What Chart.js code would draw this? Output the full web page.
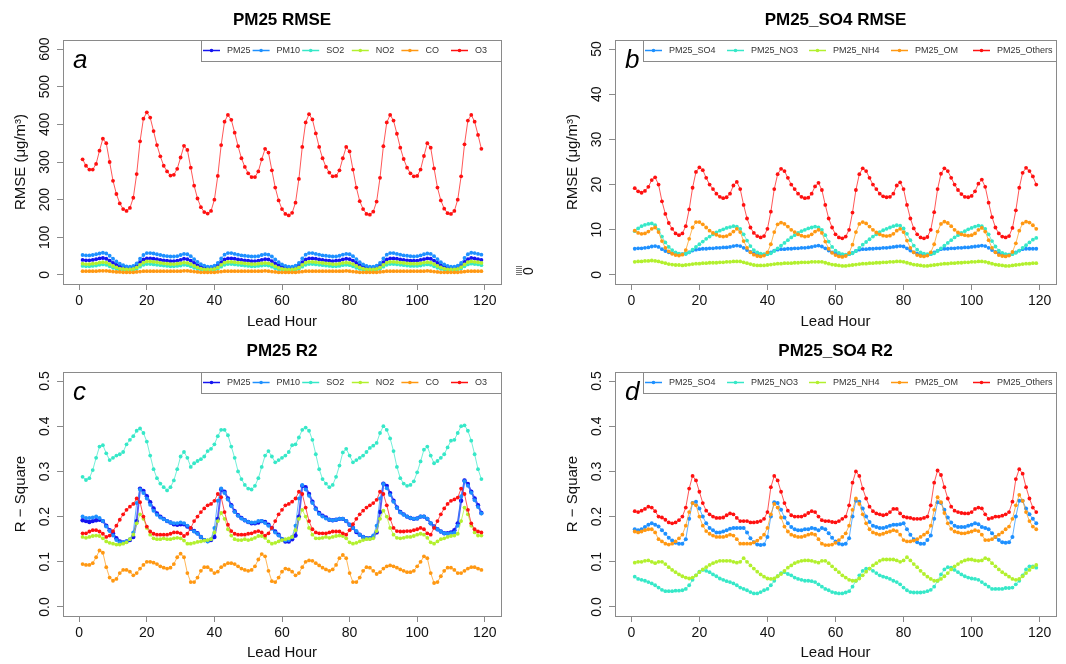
<!DOCTYPE html>
<html><head><meta charset="utf-8">
<script src="https://cdn.jsdelivr.net/npm/chart.js@4.4.1/dist/chart.umd.min.js"></script>
<style>
html,body{margin:0;padding:0;background:#fff;}
#wrap{position:relative;width:1066px;height:664px;overflow:hidden;background:#fff;}
canvas{position:absolute;}
</style></head><body>
<div id="wrap">
<canvas id="pa" width="533" height="332" style="left:0px;top:0px"></canvas>
<canvas id="pb" width="533" height="332" style="left:533px;top:0px"></canvas>
<canvas id="pc" width="533" height="332" style="left:0px;top:332px"></canvas>
<canvas id="pd" width="533" height="332" style="left:533px;top:332px"></canvas>
</div>
<script>
// ---------------- DATA ----------------
const hours = [1,2,3,4,5,6,7,8,9,10,11,12,13,14,15,16,17,18,19,20,21,22,23,24,25,26,27,28,29,30,31,32,33,34,35,36,37,38,39,40,41,42,43,44,45,46,47,48,49,50,51,52,53,54,55,56,57,58,59,60,61,62,63,64,65,66,67,68,69,70,71,72,73,74,75,76,77,78,79,80,81,82,83,84,85,86,87,88,89,90,91,92,93,94,95,96,97,98,99,100,101,102,103,104,105,106,107,108,109,110,111,112,113,114,115,116,117,118,119];
const xTicks = [0,20,40,60,80,100,120];
const rmseTicksA = [0,100,200,300,400,500,600];
const rmseTicksB = [0,10,20,30,40,50];
const r2Ticks = [0,0.1,0.2,0.3,0.4,0.5];
const legendA = ["PM25","PM10","SO2","NO2","CO","O3"];
const legendB = ["PM25_SO4","PM25_NO3","PM25_NH4","PM25_OM","PM25_Others"];

// panel a: RMSE of pollutants
const aPM25 = [40,39,39,40,42,44,45,43,38,32,27,23,21,20,19,21,26,34,41,44,44,43,42,40,
 39,38,37,37,38,40,43,42,38,32,26,22,20,19,19,21,26,34,41,44,
 44,43,41,40,39,38,37,37,38,40,42,41,37,31,26,22,20,19,19,21,26,34,41,44,
 44,43,41,40,39,38,37,38,39,41,43,42,38,32,26,22,20,19,19,21,26,34,41,44,
 44,43,41,40,39,38,38,38,40,42,44,43,38,32,26,22,20,19,19,21,27,35,42,45,
 44,42,40];
const aPM10 = [53,52,52,53,55,57,59,57,51,43,36,30,26,23,22,24,31,43,53,58,58,57,55,53,
 51,50,49,49,50,53,56,55,50,42,35,29,25,22,22,25,32,44,54,58,
 58,56,54,52,51,50,49,49,50,53,55,54,49,41,34,28,24,22,22,25,32,44,54,58,
 58,56,54,52,51,50,49,49,51,54,56,55,50,42,34,28,24,22,22,25,32,44,54,58,
 58,56,54,52,51,50,49,50,52,55,57,56,50,42,34,28,24,22,22,25,32,45,55,59,
 58,56,54];
const aSO2 = [24,23,23,24,25,27,28,27,23,19,16,14,13,12,12,13,16,22,27,29,29,28,27,26,
 25,24,23,23,24,25,27,26,23,19,16,14,12,12,12,13,16,22,27,29,
 29,28,27,26,25,24,23,23,24,25,26,25,22,18,15,13,12,11,12,13,16,22,27,29,
 29,28,27,26,25,24,23,23,24,26,27,26,23,19,16,13,12,12,12,13,16,22,27,29,
 29,28,27,26,25,24,24,24,25,27,28,27,23,19,16,13,12,12,12,13,17,23,28,30,
 29,28,26];
const aNO2 = [30,29,29,30,31,33,34,33,29,24,20,17,16,15,15,16,20,27,33,36,36,35,34,32,
 31,30,29,29,30,31,33,32,29,24,20,17,15,15,15,16,20,27,33,35,
 35,34,33,32,31,30,29,29,30,31,32,31,28,23,19,16,15,14,15,16,20,27,33,35,
 35,34,33,32,31,30,29,29,30,32,33,32,29,24,20,17,15,15,15,16,20,27,33,35,
 35,34,33,32,31,30,30,30,31,33,34,33,29,24,20,17,15,15,15,16,21,28,34,36,
 35,34,32];
const aCO = [10,10,10,10,10,11,11,11,10,9,8,8,7,7,7,7,8,9,10,10,10,10,10,10,
 10,10,10,10,10,10,11,11,10,9,8,7,7,7,7,7,8,9,10,10,
 10,10,10,10,10,10,10,10,10,10,11,10,9,8,7,7,7,7,7,7,8,9,10,10,
 10,10,10,10,10,10,10,10,10,10,11,10,9,8,7,7,7,7,7,7,8,9,10,10,
 10,10,10,10,10,10,10,10,10,10,11,10,9,8,7,7,7,7,7,7,8,9,10,10,
 10,10,10];
const aO3 = [307,290,280,280,295,330,362,350,300,250,215,190,175,170,178,205,268,355,415,432,418,382,345,315,
 290,275,264,266,282,312,343,332,285,237,203,180,167,163,170,200,263,345,407,425,412,378,342,310,
 287,270,260,260,275,307,335,325,278,232,198,175,162,158,165,192,255,340,405,427,413,376,340,310,
 287,272,262,263,278,310,340,328,280,232,196,175,162,160,168,195,258,342,405,425,410,375,338,308,
 285,270,262,263,280,316,350,338,283,232,198,176,164,162,170,200,262,347,410,425,407,372,335];

// panel b: RMSE of PM2.5 components
const bSO4 = [5.8,5.9,5.9,6.0,6.1,6.3,6.4,6.2,5.7,5.3,5.0,4.8,4.7,4.6,4.6,4.7,5.0,5.4,5.6,5.7,5.8,5.8,5.9,5.9,
 6.0,6.0,6.1,6.1,6.2,6.4,6.5,6.4,6.0,5.5,5.1,4.8,4.6,4.5,4.5,4.7,5.0,5.4,5.6,5.7,
 5.7,5.8,5.8,5.9,5.9,6.0,6.0,6.1,6.2,6.4,6.5,6.3,5.9,5.4,5.0,4.7,4.5,4.4,4.4,4.6,4.9,5.3,5.6,5.7,
 5.7,5.8,5.8,5.9,5.9,6.0,6.0,6.1,6.2,6.3,6.4,6.3,5.9,5.4,5.0,4.7,4.5,4.4,4.4,4.6,5.0,5.4,5.7,5.8,
 5.8,5.9,5.9,6.0,6.0,6.1,6.1,6.2,6.3,6.4,6.5,6.4,6.0,5.5,5.1,4.8,4.6,4.5,4.5,4.7,5.0,5.4,5.7,5.8,
 5.8,5.8,5.8];
const bNO3 = [9.7,10.3,10.8,11.1,11.3,11.4,11,10,8.5,7.2,6.2,5.5,5,4.7,4.6,4.7,5,5.6,6.2,6.8,
 7.4,8,8.5,9,9.4,9.8,10.1,10.4,10.6,10.8,10.7,10.2,9,7.6,6.4,5.5,5,4.7,4.6,4.6,
 4.8,5.3,5.9,6.5,7.1,7.7,8.3,8.8,9.3,9.7,10,10.3,10.5,10.7,10.5,10,8.8,7.4,6.2,5.4,
 4.9,4.6,4.5,4.6,4.8,5.3,6,6.7,7.3,7.9,8.5,9,9.5,9.9,10.2,10.5,10.8,11,10.9,10.3,
 9.1,7.7,6.5,5.6,5,4.7,4.6,4.6,4.8,5.3,5.9,6.5,7.1,7.7,8.3,8.8,9.3,9.7,10.1,10.4,
 10.7,10.9,10.8,10.2,9,7.5,6.3,5.4,4.9,4.6,4.5,4.6,4.9,5.4,6,6.6,7.2,7.8,8.2];
const bNH4 = [2.9,3.0,3.0,3.1,3.1,3.2,3.1,3.0,2.8,2.6,2.4,2.3,2.2,2.2,2.1,2.2,2.3,2.4,2.5,2.5,2.6,2.6,2.7,2.7,
 2.7,2.8,2.8,2.9,2.9,3.0,3.0,3.0,2.8,2.6,2.4,2.2,2.1,2.1,2.1,2.2,2.3,2.4,2.5,2.5,
 2.6,2.6,2.6,2.7,2.7,2.8,2.8,2.8,2.9,2.9,2.9,2.9,2.7,2.5,2.3,2.2,2.1,2.0,2.0,2.1,2.2,2.3,2.4,2.5,
 2.5,2.6,2.6,2.7,2.7,2.8,2.8,2.9,2.9,3.0,3.0,2.9,2.7,2.5,2.3,2.2,2.1,2.0,2.0,2.1,2.2,2.3,2.4,2.5,
 2.5,2.6,2.6,2.7,2.7,2.8,2.8,2.9,2.9,3.0,3.0,2.9,2.7,2.5,2.3,2.2,2.1,2.0,2.0,2.1,2.2,2.3,2.4,2.5,
 2.5,2.6,2.6];
const bOM = [9.8,9.3,9.1,9.2,9.6,10.2,10.5,9.5,7.5,6,5.2,4.7,4.4,4.3,4.5,5.5,8,10.5,11.7,11.7,
 11.2,10.5,9.8,9.3,8.9,8.6,8.5,8.6,9,9.6,10.2,9.5,7.5,6,5,4.5,4.2,4.1,4.3,5,
 6.8,9.5,11.2,11.6,11.3,10.7,10,9.5,9,8.7,8.5,8.6,9,9.6,10,9.3,7.4,5.8,4.9,4.4,
 4.1,4,4.2,4.9,6.7,9.5,11.3,11.7,11.4,10.7,10,9.4,9,8.7,8.6,8.7,9.1,9.8,10.2,9.5,
 7.6,6,5,4.4,4.2,4.1,4.3,5,6.8,9.6,11.3,11.8,11.5,10.8,10,9.4,9,8.8,8.7,8.8,
 9.2,10,10.4,9.6,7.7,6,5,4.4,4.2,4.1,4.3,5.1,7,9.8,11.4,11.8,11.6,11,10.2];
const bOthers = [19.2,18.5,18.2,18.6,19.5,21,21.6,20,16.3,13.5,11.5,10.2,9.2,8.8,9.2,10.8,14.5,19.3,22.8,23.8,
 23.2,21.5,20,19,18,17.3,17,17.2,18,19.8,20.6,19,15.5,12.5,10.5,9.3,8.6,8.3,8.6,10.2,
 14,19,22.3,23.5,23,21.5,20,19,18,17.3,17,17.1,18,19.6,20.4,18.8,15.5,12.5,10.5,9,
 8.3,8.1,8.5,10,13.8,18.8,22.3,23.6,23,21.5,20,19,18,17.4,17.2,17.3,18,19.8,20.5,19,
 15.5,12.5,10.3,9,8.3,8.1,8.4,10,13.9,19,22.4,23.6,23,21.5,20,18.8,17.9,17.3,17.2,17.5,
 18.5,20.2,21.1,19.5,16,12.8,10.5,9.2,8.5,8.3,8.6,10.4,14.3,19.3,22.6,23.7,23,21.8,20];

// panel c: R2 of pollutants
const cPM25 = [.192,.19,.188,.19,.192,.193,.19,.18,.17,.163,.152,.145,.143,.145,.148,.155,.19,.262,.257,.245,
 .232,.218,.207,.2,.195,.19,.187,.183,.182,.183,.183,.178,.173,.168,.163,.155,.148,.146,.148,.155,
 .195,.26,.255,.24,.225,.212,.203,.197,.192,.188,.185,.185,.187,.19,.188,.182,.175,.167,.16,.15,
 .145,.145,.15,.158,.2,.268,.265,.25,.233,.218,.208,.202,.198,.193,.192,.193,.195,.195,.19,.182,
 .175,.166,.16,.155,.152,.152,.155,.165,.21,.273,.268,.252,.235,.22,.21,.205,.2,.197,.195,.196,
 .2,.2,.195,.185,.178,.172,.167,.163,.163,.165,.17,.185,.235,.28,.272,.255,.24,.225,.208];
const cPM10 = [.2,.197,.197,.198,.2,.197,.19,.178,.168,.158,.148,.143,.143,.145,.15,.165,.23,.26,.252,.24,
 .226,.213,.204,.198,.194,.19,.187,.185,.185,.187,.185,.18,.173,.167,.162,.155,.148,.145,.15,.175,
 .235,.262,.252,.238,.223,.21,.202,.196,.192,.188,.187,.187,.19,.19,.186,.18,.173,.165,.158,.15,
 .147,.148,.155,.18,.24,.27,.26,.246,.23,.216,.206,.2,.196,.193,.192,.193,.195,.195,.19,.182,
 .175,.168,.16,.155,.152,.152,.158,.18,.24,.272,.263,.248,.233,.219,.209,.204,.2,.197,.195,.196,
 .2,.2,.195,.185,.177,.172,.167,.163,.162,.163,.165,.18,.245,.278,.268,.253,.236,.221,.207];
const cSO2 = [.288,.281,.285,.303,.33,.355,.358,.34,.325,.33,.335,.338,.343,.36,.37,.378,.39,.395,.385,.366,
 .335,.305,.285,.273,.265,.258,.265,.28,.305,.333,.343,.33,.31,.318,.323,.327,.333,.345,.35,.36,
 .378,.392,.392,.38,.355,.33,.3,.283,.27,.262,.26,.268,.285,.31,.335,.345,.333,.32,.325,.33,
 .335,.343,.358,.36,.375,.392,.397,.39,.37,.338,.305,.283,.273,.265,.27,.288,.313,.342,.35,.335,
 .32,.325,.33,.335,.343,.352,.357,.363,.385,.4,.392,.373,.345,.31,.285,.273,.268,.27,.278,.298,
 .322,.348,.355,.335,.318,.323,.33,.338,.353,.368,.37,.385,.4,.402,.39,.368,.338,.305,.283];
const cNO2 = [.155,.153,.155,.157,.158,.157,.152,.145,.142,.14,.138,.138,.14,.143,.15,.16,.185,.205,.195,.175,
 .16,.152,.15,.15,.152,.15,.15,.152,.153,.152,.147,.14,.14,.142,.144,.145,.147,.148,.15,.165,
 .19,.208,.195,.172,.158,.15,.148,.148,.15,.148,.15,.153,.157,.157,.153,.145,.14,.142,.145,.148,
 .15,.152,.155,.17,.195,.215,.2,.175,.16,.152,.152,.153,.155,.153,.155,.157,.158,.157,.152,.143,
 .14,.142,.145,.148,.15,.15,.152,.168,.195,.213,.2,.175,.16,.153,.152,.153,.155,.155,.157,.16,
 .162,.16,.153,.143,.14,.145,.15,.152,.155,.157,.158,.162,.19,.22,.205,.18,.165,.158,.158];
const cCO = [.095,.093,.093,.097,.11,.125,.12,.088,.065,.058,.062,.075,.082,.082,.078,.07,.075,.085,.093,.1,
 .1,.098,.095,.09,.087,.085,.087,.095,.11,.118,.11,.075,.055,.055,.065,.08,.088,.088,.082,.075,
 .078,.088,.093,.097,.097,.095,.09,.085,.082,.08,.082,.09,.105,.117,.112,.08,.057,.055,.065,.078,
 .085,.083,.078,.07,.075,.088,.1,.103,.102,.097,.092,.087,.083,.08,.083,.093,.108,.115,.108,.075,
 .055,.055,.065,.08,.088,.087,.08,.073,.077,.085,.09,.092,.09,.087,.083,.08,.077,.077,.08,.09,
 .1,.112,.108,.075,.053,.055,.068,.08,.087,.087,.082,.075,.075,.08,.085,.088,.088,.085,.082];
const cO3 = [.163,.163,.167,.17,.17,.167,.162,.155,.158,.168,.18,.193,.205,.215,.222,.228,.24,.232,.2,.178,
 .167,.162,.16,.16,.16,.16,.162,.165,.165,.163,.157,.162,.175,.19,.2,.21,.218,.225,.228,.235,
 .25,.243,.21,.182,.168,.162,.16,.16,.16,.162,.163,.166,.168,.165,.158,.163,.175,.19,.205,.215,
 .225,.228,.233,.24,.255,.25,.22,.19,.172,.165,.163,.163,.163,.165,.167,.167,.167,.163,.16,.17,
 .183,.195,.205,.213,.22,.225,.23,.237,.255,.25,.225,.195,.175,.168,.167,.167,.168,.168,.17,.172,
 .175,.172,.163,.16,.175,.19,.205,.218,.228,.235,.238,.242,.262,.25,.215,.185,.172,.167,.165];

// panel d: R2 of PM2.5 components
const dSO4 = [.172,.17,.172,.177,.182,.185,.182,.178,.17,.162,.153,.147,.142,.14,.14,.15,.195,.23,.233,.218,
 .2,.185,.175,.17,.165,.165,.167,.17,.173,.175,.175,.175,.175,.165,.152,.143,.138,.137,.138,.155,
 .2,.232,.23,.215,.198,.185,.177,.172,.17,.17,.172,.172,.175,.173,.17,.175,.172,.163,.153,.145,
 .14,.138,.14,.152,.2,.235,.233,.218,.2,.188,.18,.177,.175,.175,.177,.18,.182,.182,.183,.185,
 .172,.16,.15,.143,.14,.14,.148,.158,.195,.232,.23,.215,.198,.187,.18,.177,.177,.177,.18,.182,
 .185,.183,.177,.175,.172,.163,.155,.148,.143,.142,.143,.155,.2,.235,.235,.218,.205,.195,.185];
const dNO3 = [.067,.062,.06,.058,.055,.052,.048,.043,.038,.035,.035,.035,.036,.036,.037,.04,.048,.06,.07,.078,
 .082,.08,.077,.072,.068,.063,.06,.057,.055,.052,.048,.043,.04,.037,.033,.03,.03,.033,.037,.04,
 .048,.058,.068,.075,.077,.073,.07,.065,.062,.06,.058,.058,.057,.055,.05,.045,.04,.037,.033,.031,
 .03,.03,.032,.035,.045,.058,.07,.08,.085,.085,.08,.075,.07,.067,.065,.062,.058,.055,.05,.043,
 .037,.033,.032,.032,.032,.033,.035,.038,.045,.058,.072,.083,.088,.087,.082,.077,.072,.068,.065,.063,
 .062,.06,.055,.05,.045,.04,.04,.04,.04,.042,.042,.043,.05,.058,.07,.083,.09,.09,.087];
const dNH4 = [.098,.1,.1,.102,.103,.1,.097,.1,.1,.095,.088,.082,.077,.072,.068,.065,.063,.065,.07,.077,
 .083,.088,.093,.097,.1,.102,.102,.102,.102,.1,.098,.1,.108,.1,.092,.085,.078,.072,.067,.063,
 .062,.063,.068,.073,.08,.087,.092,.097,.1,.102,.103,.103,.102,.1,.098,.102,.102,.097,.09,.083,
 .077,.07,.065,.06,.058,.058,.063,.07,.078,.085,.092,.097,.102,.105,.105,.105,.105,.103,.1,.103,
 .11,.103,.095,.088,.08,.073,.067,.062,.058,.058,.062,.068,.075,.083,.09,.095,.1,.103,.105,.105,
 .103,.102,.103,.108,.105,.097,.09,.083,.077,.072,.067,.062,.06,.062,.068,.075,.082,.088,.093];
const dOM = [.167,.165,.167,.17,.172,.172,.165,.15,.145,.14,.138,.14,.145,.152,.16,.18,.21,.23,.225,.2,
 .18,.168,.162,.158,.155,.155,.155,.157,.16,.158,.15,.14,.14,.14,.14,.143,.147,.153,.16,.175,
 .205,.228,.22,.198,.178,.167,.16,.157,.155,.155,.157,.16,.162,.16,.15,.14,.137,.137,.138,.142,
 .148,.155,.163,.18,.215,.24,.228,.205,.185,.172,.165,.162,.16,.162,.165,.167,.17,.168,.16,.148,
 .145,.145,.147,.15,.155,.16,.165,.18,.215,.243,.232,.208,.185,.173,.167,.165,.163,.163,.165,.167,
 .17,.168,.16,.148,.148,.15,.155,.16,.165,.172,.178,.195,.225,.248,.235,.21,.19,.178,.172];
const dOthers = [.212,.21,.213,.217,.222,.22,.212,.2,.198,.193,.187,.185,.187,.192,.2,.22,.262,.29,.28,.255,
 .23,.213,.205,.2,.197,.197,.198,.203,.207,.205,.197,.19,.19,.19,.187,.187,.188,.19,.195,.21,
 .265,.29,.28,.255,.23,.213,.203,.2,.2,.2,.203,.208,.212,.21,.2,.192,.19,.19,.188,.187,
 .19,.195,.2,.225,.275,.3,.29,.262,.24,.222,.212,.207,.205,.203,.205,.21,.217,.217,.207,.2,
 .198,.197,.195,.195,.195,.197,.2,.225,.275,.302,.292,.265,.24,.222,.213,.21,.208,.207,.207,.21,
 .217,.22,.218,.205,.195,.197,.2,.2,.202,.205,.21,.233,.283,.305,.295,.265,.24,.22,.21];

// ---------------- STYLE ----------------
const FONT = "'Liberation Sans', Arial, Helvetica, sans-serif";
const GREY = '#8a8a8a';
const C_BLUE = '#1414f0', C_DODGER = '#1e90ff', C_TURQ = '#36e8c8', C_GY = '#b2f02e', C_ORANGE = '#ff9812', C_RED = '#ff1010';
const W = 533, H = 332, AREA_TOP = 40, AREA_BOTTOM = 284;

function rgba(hex, a) {
  const n = parseInt(hex.slice(1), 16);
  return 'rgba(' + ((n >> 16) & 255) + ',' + ((n >> 8) & 255) + ',' + (n & 255) + ',' + a + ')';
}

function decor(p) {
  return {
    id: 'decor',
    afterDraw(chart) {
      const ctx = chart.ctx, a = chart.chartArea, ys = chart.scales.y;
      const cx = (a.left + a.right) / 2;
      ctx.save();
      // plot box
      ctx.strokeStyle = GREY; ctx.lineWidth = 1;
      ctx.strokeRect(Math.round(a.left) + 0.5, Math.round(a.top) + 0.5, Math.round(a.right - a.left), Math.round(a.bottom - a.top));
      // rotated y tick labels
      ctx.fillStyle = '#111';
      ctx.font = '14px ' + FONT;
      ctx.textAlign = 'center'; ctx.textBaseline = 'middle';
      ys.ticks.forEach(t => {
        const y = ys.getPixelForValue(t.value);
        ctx.save(); ctx.translate(a.left - 18, y); ctx.rotate(-Math.PI / 2);
        ctx.fillText(p.fmt(t.value), 0, 0); ctx.restore();
      });
      // y title
      ctx.font = '15px ' + FONT;
      ctx.save(); ctx.translate(a.left - 42, (a.top + a.bottom) / 2); ctx.rotate(-Math.PI / 2);
      ctx.fillText(p.ytitle, 0, 0); ctx.restore();
      // x title
      ctx.fillText('Lead Hour', cx, p.xtitleY);
      // main title
      ctx.fillStyle = '#000';
      ctx.font = 'bold 17px ' + FONT;
      ctx.fillText(p.title, cx, p.titleY);
      // panel letter
      ctx.font = 'italic 26px ' + FONT;
      ctx.textAlign = 'left'; ctx.textBaseline = 'alphabetic';
      ctx.fillText(p.letter, a.left + 10, a.top + 28);
      // legend
      const lg = p.legend, lh = 21, ly = a.top + lh / 2;
      ctx.fillStyle = '#fff';
      ctx.fillRect(lg.left, a.top, a.right - lg.left, lh);
      ctx.strokeStyle = GREY;
      ctx.strokeRect(lg.left + 0.5, Math.round(a.top) + 0.5, Math.round(a.right - lg.left), lh);
      ctx.font = '9px ' + FONT;
      ctx.textBaseline = 'middle';
      chart.data.datasets.forEach((ds, i) => {
        const x0 = lg.left + 2 + i * lg.step;
        ctx.strokeStyle = ds.pointBackgroundColor; ctx.lineWidth = 1.5;
        ctx.beginPath(); ctx.moveTo(x0, ly); ctx.lineTo(x0 + 17, ly); ctx.stroke();
        ctx.fillStyle = ds.pointBackgroundColor;
        ctx.beginPath(); ctx.arc(x0 + 8.5, ly, 1.8, 0, Math.PI * 2); ctx.fill();
        ctx.fillStyle = '#333';
        ctx.fillText(ds.label, x0 + 24, ly);
      });
      if (p.extra) p.extra(ctx);
      ctx.restore();
    }
  };
}

function makePanel(id, p) {
  const datasets = p.series.map((s, i) => ({
    label: s.name,
    data: hours.map((h, k) => ({ x: h, y: s.data[k] })),
    borderColor: rgba(s.color, 0.7),
    backgroundColor: s.color,
    pointBackgroundColor: s.color,
    pointBorderWidth: 0,
    pointRadius: s.r || 1.9,
    borderWidth: s.w || 1,
    tension: 0,
    fill: false,
    order: p.series.length - i
  }));
  return new Chart(document.getElementById(id), {
    type: 'line',
    data: { datasets },
    options: {
      responsive: false, animation: false, events: [],
      layout: { padding: { left: 0, top: AREA_TOP, right: W - p.right, bottom: 0 } },
      plugins: { legend: { display: false }, tooltip: { enabled: false }, title: { display: false } },
      scales: {
        x: {
          type: 'linear', min: -4.8, max: 124.8,
          afterBuildTicks: s => { s.ticks = xTicks.map(v => ({ value: v })); },
          afterFit: s => { s.height = H - AREA_BOTTOM; },
          grid: { drawOnChartArea: false, drawTicks: true, tickLength: 6, color: GREY },
          border: { display: true, color: GREY },
          ticks: { font: { size: 14, family: FONT }, color: '#111', padding: 3, maxRotation: 0, minRotation: 0, autoSkip: false }
        },
        y: {
          type: 'linear', min: p.ymin, max: p.ymax,
          afterBuildTicks: s => { s.ticks = p.yticks.map(v => ({ value: v })); },
          afterFit: s => { s.width = p.left; },
          grid: { drawOnChartArea: false, drawTicks: true, tickLength: 6, color: GREY },
          border: { display: true, color: GREY },
          ticks: { display: false }
        }
      }
    },
    plugins: [decor(p)]
  });
}

const fmtInt = v => String(Math.round(v));
const fmt1 = v => v.toFixed(1);

makePanel('pa', {
  title: 'PM25 RMSE', letter: 'a', ytitle: 'RMSE (\u03bcg/m\u00b3)', titleY: 20, xtitleY: 322,
  left: 63, right: 501, ymin: -24, ymax: 624, yticks: rmseTicksA, fmt: fmtInt,
  legend: { left: 201, step: 49.6 },
  series: [
    { name: legendA[0], data: aPM25, color: C_BLUE, w: 2 },
    { name: legendA[1], data: aPM10, color: C_DODGER },
    { name: legendA[2], data: aSO2, color: C_TURQ },
    { name: legendA[3], data: aNO2, color: C_GY },
    { name: legendA[4], data: aCO, color: C_ORANGE },
    { name: legendA[5], data: aO3, color: C_RED }
  ],
  extra: ctx => {
    ctx.strokeStyle = '#777'; ctx.lineWidth = 1;
    for (let k = 0; k < 5; k++) { ctx.beginPath(); ctx.moveTo(516, 266.5 + 2 * k); ctx.lineTo(522, 266.5 + 2 * k); ctx.stroke(); }
    ctx.fillStyle = '#111'; ctx.font = '14px ' + FONT; ctx.textAlign = 'center'; ctx.textBaseline = 'middle';
    ctx.save(); ctx.translate(529, 271); ctx.rotate(-Math.PI / 2); ctx.fillText('0', 0, 0); ctx.restore();
  }
});
makePanel('pb', {
  title: 'PM25_SO4 RMSE', letter: 'b', ytitle: 'RMSE (\u03bcg/m\u00b3)', titleY: 20, xtitleY: 322,
  left: 82, right: 523, ymin: -2, ymax: 52, yticks: rmseTicksB, fmt: fmtInt,
  legend: { left: 110, step: 82 },
  series: [
    { name: legendB[0], data: bSO4, color: C_DODGER },
    { name: legendB[1], data: bNO3, color: C_TURQ },
    { name: legendB[2], data: bNH4, color: C_GY },
    { name: legendB[3], data: bOM, color: C_ORANGE },
    { name: legendB[4], data: bOthers, color: C_RED }
  ]
});
makePanel('pc', {
  title: 'PM25 R2', letter: 'c', ytitle: 'R \u2212 Square', titleY: 19, xtitleY: 321,
  left: 63, right: 501, ymin: -0.02, ymax: 0.52, yticks: r2Ticks, fmt: fmt1,
  legend: { left: 201, step: 49.6 },
  series: [
    { name: legendA[0], data: cPM25, color: C_BLUE, w: 2, r: 2.2 },
    { name: legendA[1], data: cPM10, color: C_DODGER, r: 2 },
    { name: legendA[2], data: cSO2, color: C_TURQ },
    { name: legendA[3], data: cNO2, color: C_GY },
    { name: legendA[4], data: cCO, color: C_ORANGE },
    { name: legendA[5], data: cO3, color: C_RED }
  ]
});
makePanel('pd', {
  title: 'PM25_SO4 R2', letter: 'd', ytitle: 'R \u2212 Square', titleY: 19, xtitleY: 321,
  left: 82, right: 523, ymin: -0.02, ymax: 0.52, yticks: r2Ticks, fmt: fmt1,
  legend: { left: 110, step: 82 },
  series: [
    { name: legendB[0], data: dSO4, color: C_DODGER, r: 2 },
    { name: legendB[1], data: dNO3, color: C_TURQ },
    { name: legendB[2], data: dNH4, color: C_GY },
    { name: legendB[3], data: dOM, color: C_ORANGE },
    { name: legendB[4], data: dOthers, color: C_RED }
  ]
});
</script>
</body></html>
